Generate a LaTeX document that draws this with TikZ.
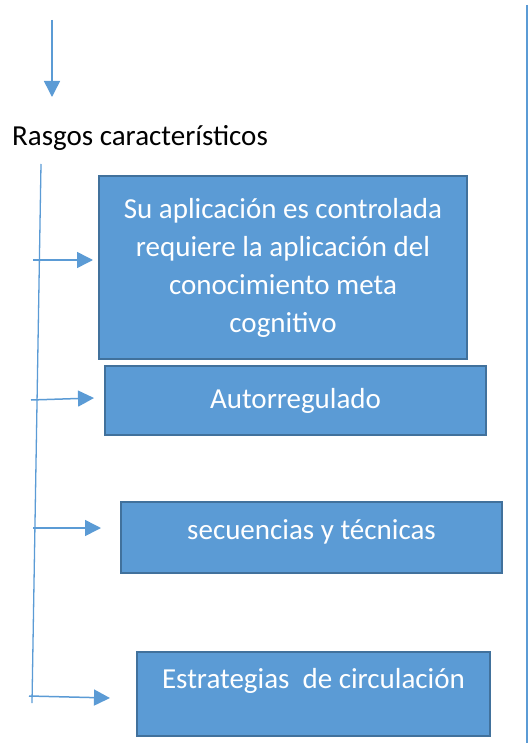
\documentclass[tikz,border=0pt]{standalone}
\usepackage{fontspec}
\setmainfont{Carlito}
\usetikzlibrary{arrows.meta}
\usetikzlibrary{positioning}
\definecolor{boxblue}{HTML}{5B9BD5}
\definecolor{boxedge}{HTML}{41719C}
\tikzset{
  featbox/.style={draw=boxedge, line width=2pt, fill=boxblue, text=white,
    align=center, inner sep=0pt, font=\fontsize{29}{38}\selectfont},
  link/.style={draw=boxblue, line width=1.5pt, -{Triangle[width=16pt,length=16pt]}},
  spine/.style={draw=boxblue, line width=1.3pt}
}
\begin{document}
\begin{tikzpicture}[x=1pt, y=-1pt]
\useasboundingbox (0,0) rectangle (529,743);

% top arrow and heading
\coordinate (TopA) at (52,20);
\coordinate (TopB) at (52,97);
\draw[link] (TopA) -- (TopB);
\node[anchor=west, inner sep=0pt, font=\fontsize{29}{34}\selectfont] (rasgos) at (12,138) {Rasgos característicos};

% right margin line
\coordinate (RA) at (527,5);
\coordinate (RB) at (527,743);
\draw[spine, line width=1.5pt] (RA) -- (RB);

%%% boxes
\node[featbox, minimum width=368pt, minimum height=183pt] (apl) at (283,267.5)
  {Su aplicación es controlada\\requiere la aplicación del\\conocimiento meta\\cognitivo};
\node[featbox, minimum width=381pt, minimum height=69pt] (auto) at (295.5,400.5) {Autorregulado};
\node[featbox, minimum width=381pt, minimum height=71pt, text depth=16pt] (sec) at (311.5,537.5) {secuencias y técnicas};
\node[featbox, minimum width=353pt, minimum height=84pt, text depth=31pt] (est) at (313.5,694) {Estrategias\ \ de circulación};

%%% spine
\coordinate (SpTop) at (41,164);
\coordinate (SpBot) at (32,703);
\draw[spine] (SpTop) -- (SpBot);

% branches
\coordinate (B1) at (33,260);
\coordinate (B2) at (31,400);
\coordinate (B3) at (33,528);
\coordinate (B4) at (29,696);
\coordinate (E1) at (93,260);
\coordinate (E2) at (94,398);
\coordinate (E3) at (101,528);
\coordinate (E4) at (110,698);
\draw[link] (B1) -- (E1);
\draw[link] (B2) -- (E2);
\draw[link] (B3) -- (E3);
\draw[link] (B4) -- (E4);

\end{tikzpicture}
\end{document}
